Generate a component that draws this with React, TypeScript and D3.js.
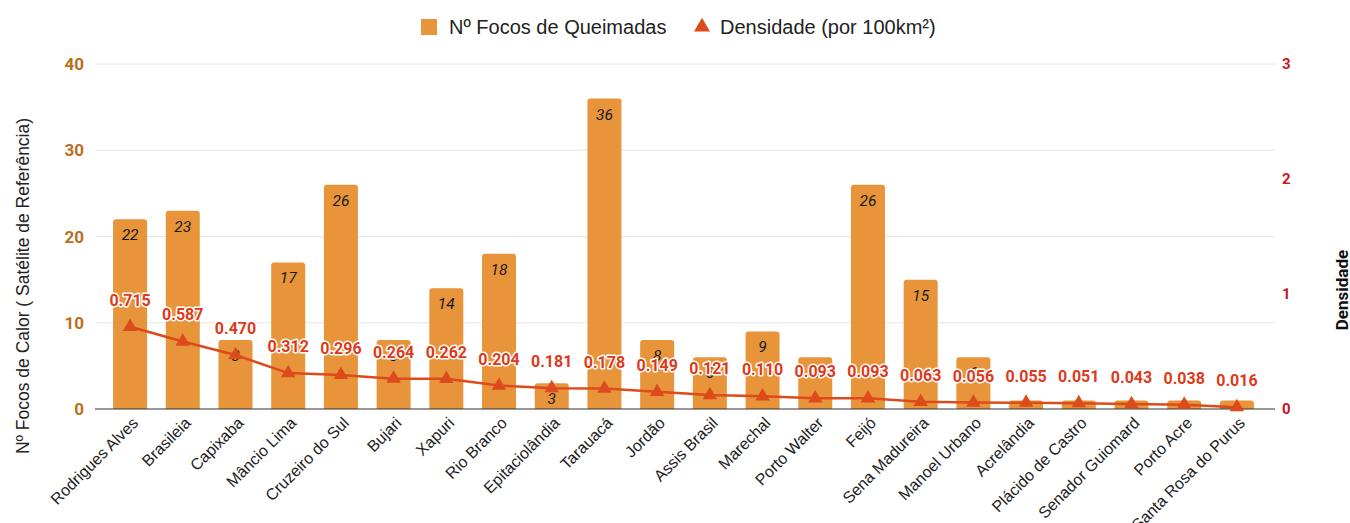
import React from "react";
import * as d3 from "d3";

const categories = ["Rodrigues Alves","Brasileia","Capixaba","Mâncio Lima","Cruzeiro do Sul","Bujari","Xapuri","Rio Branco","Epitaciolândia","Tarauacá","Jordão","Assis Brasil","Marechal","Porto Walter","Feijó","Sena Madureira","Manoel Urbano","Acrelândia","Plácido de Castro","Senador Guiomard","Porto Acre","Santa Rosa do Purus"];
const focos = [22,23,8,17,26,8,14,18,3,36,8,6,9,6,26,15,6,1,1,1,1,1];
const densidade = [0.715,0.587,0.470,0.312,0.296,0.264,0.262,0.204,0.181,0.178,0.149,0.121,0.110,0.093,0.093,0.063,0.056,0.055,0.051,0.043,0.038,0.016];
const leftTicks = [0,10,20,30,40];
const rightTicks = [0,1,2,3];

const W = 1350, H = 523;
const top = 64, bottom = 409;
const gridL = 95, gridR = 1275;

export default function App() {
  const x = d3.scaleBand<string>().domain(categories).range([103.6, 1263.4]).paddingInner(0.355).paddingOuter(0.18);
  const yL = d3.scaleLinear().domain([0, 40]).range([bottom, top]);
  const yR = d3.scaleLinear().domain([0, 3]).range([bottom, top]);
  const line = d3.line<number>().x((_, i) => x(categories[i])! + x.bandwidth() / 2).y(d => yR(d));
  const barColor = "#e8943a";
  const lineColor = "#dd4a1c";
  const font = "Roboto, 'Noto Sans', sans-serif";
  const sans = "'Liberation Sans', Arial, sans-serif";
  const bw = x.bandwidth();
  const tri = d3.symbol(d3.symbolTriangle, 90)()!;
  return (
    <svg width={W} height={H} style={{ position: "absolute", left: 0, top: 0, fontFamily: font }}>
      <rect x={0} y={0} width={W} height={H} fill="#fff" />
      {/* legend */}
      <rect x={421} y={19} width={16} height={16} fill={barColor} />
      <text x={449} y={34} fontSize={20} fill="#222" fontFamily={sans}>Nº Focos de Queimadas</text>
      <path d={d3.symbol(d3.symbolTriangle, 110)()!} transform="translate(702,27)" fill={lineColor} />
      <text x={720} y={34} fontSize={20} fill="#222" fontFamily={sans}>Densidade (por 100km²)</text>
      {/* grid */}
      {leftTicks.filter(t => t > 0).map(t => (
        <line key={t} x1={gridL} x2={gridR} y1={yL(t)} y2={yL(t)} stroke="#e6e6e6" strokeWidth={1} />
      ))}
      {leftTicks.map(t => (
        <text key={t} x={84} y={yL(t) + 6} textAnchor="end" fontSize={17} fontWeight="bold" fill="#b96f1c">{t}</text>
      ))}
      {rightTicks.map(t => (
        <text key={t} x={1282} y={yR(t) + 5} fontSize={15} fontWeight="bold" fill="#c8161d">{t}</text>
      ))}
      <text transform={`translate(29,286) rotate(-90)`} textAnchor="middle" fontSize={17.5} fill="#222" fontFamily={sans}>Nº Focos de Calor ( Satélite de Referência)</text>
      <text transform={`translate(1348,290) rotate(-90)`} textAnchor="middle" fontSize={17} fontWeight="bold" fill="#111">Densidade</text>
      {/* bars */}
      {focos.map((v, i) => {
        const bx = x(categories[i])!;
        const by = yL(v);
        const h = bottom - by;
        const r = Math.min(3, h / 2);
        return <path key={i} d={`M${bx},${bottom}V${by + r}Q${bx},${by} ${bx + r},${by}H${bx + bw - r}Q${bx + bw},${by} ${bx + bw},${by + r}V${bottom}Z`} fill={barColor} />;
      })}
      <line x1={gridL} x2={gridR} y1={bottom} y2={bottom} stroke="#333" strokeWidth={1.2} />
      {focos.map((v, i) => v > 1 ? (
        <text key={i} x={x(categories[i])! + bw / 2} y={yL(v) + 21} textAnchor="middle" fontSize={15.5} fontStyle="italic" fill="#1a1a1a">{v}</text>
      ) : null)}
      {/* line */}
      <path d={line(densidade)!} fill="none" stroke={lineColor} strokeWidth={2.5} />
      {densidade.map((d, i) => (
        <path key={i} d={tri} transform={`translate(${x(categories[i])! + bw / 2},${yR(d)})`} fill={lineColor} />
      ))}
      {densidade.map((d, i) => (
        <text key={i} x={x(categories[i])! + bw / 2} y={yR(d) - 21} textAnchor="middle" fontSize={16} fontWeight="bold" fill="#dd3a1a" stroke="#fff" strokeWidth={3} paintOrder="stroke" strokeLinejoin="round">{d.toFixed(3)}</text>
      ))}
      {/* x labels */}
      {categories.map((c) => (
        <text key={c} transform={`translate(${x(c)! + bw / 2 + 9},${bottom + 15}) rotate(-45)`} textAnchor="end" fontSize={16} fill="#222" fontFamily={sans}>{c}</text>
      ))}
    </svg>
  );
}
